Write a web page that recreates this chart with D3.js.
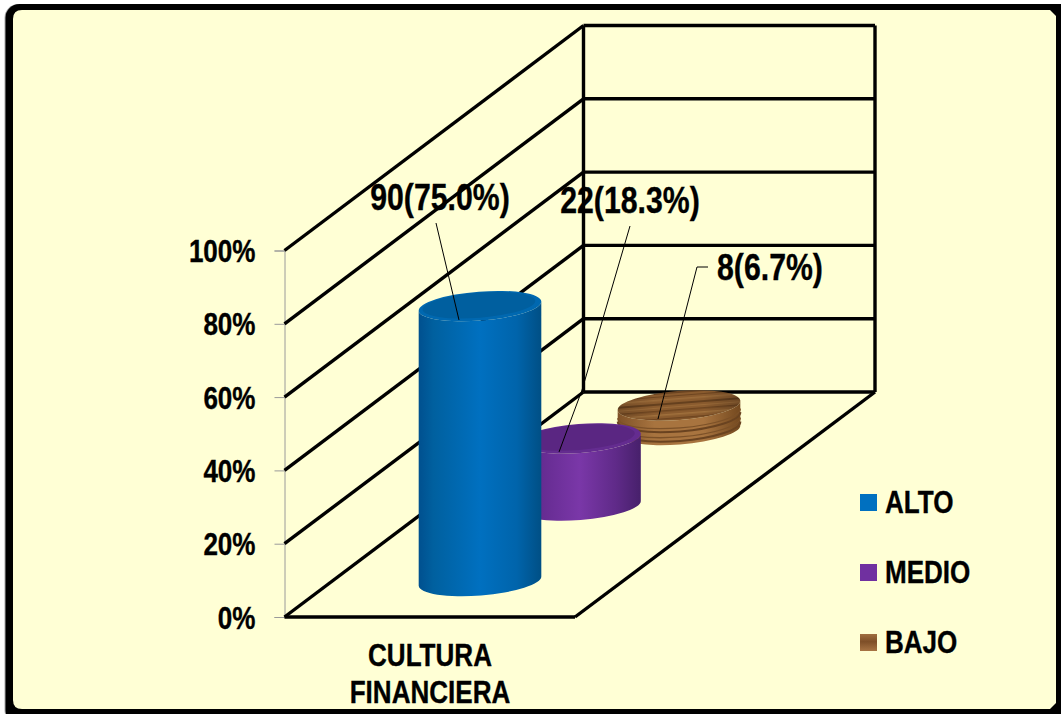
<!DOCTYPE html>
<html><head><meta charset="utf-8">
<script src="https://cdn.jsdelivr.net/npm/d3@7"></script>
<style>html,body{margin:0;padding:0;background:#fff}svg{display:block}text{font-family:"Liberation Sans",Arial,sans-serif;font-weight:bold;fill:#000;stroke:#000;stroke-width:.35px}</style>
</head><body><svg id="c" width="1061" height="714"></svg>
<script>
const series = ["ALTO","MEDIO","BAJO"];
const values = [75.0,18.3,6.7];
const counts = [90,22,8];
const pctLabels = ["75.0","18.3","6.7"];
const yTicks = [0,20,40,60,80,100];
const category = ["CULTURA","FINANCIERA"];

const svg = d3.select("#c");
const defs = svg.append("defs");
const y = d3.scaleLinear().domain([0,100]).range([617,250.5]);
const backShift = {x:299, y:-225};
const h = d3.scaleLinear().domain([0,100]).range([0,366.5]);
const bx = d3.scalePoint().domain(series).range([480,679]);
const by = d3.scalePoint().domain(series).range([581,430]);
const rx=61.5, ry=14.5, tilt=-4.5;
const condense = 0.84;
function squeeze(sel){ sel.attr("lengthAdjust","spacingAndGlyphs").each(function(){
  this.setAttribute("textLength", this.getComputedTextLength()*condense); }); return sel; }

function hgrad(id,stops){
  const g=defs.append("linearGradient").attr("id",id);
  stops.forEach(([o,c])=>g.append("stop").attr("offset",o).attr("stop-color",c));
}
hgrad("gALTO",[[0,"#00508f"],[.12,"#00609f"],[.5,"#0070c0"],[.8,"#0064ab"],[1,"#004f85"]]);
hgrad("gMEDIO",[[0,"#54247c"],[.2,"#662c92"],[.5,"#7a37a8"],[.8,"#5f2a88"],[1,"#47206b"]]);
hgrad("gBAJO",[[0,"#7f5228"],[.3,"#a8743f"],[.7,"#a8743f"],[1,"#74491f"]]);
const woodTop = defs.append("pattern").attr("id","pTop").attr("patternUnits","userSpaceOnUse").attr("width",200).attr("height",32);
woodTop.append("rect").attr("width",200).attr("height",32).attr("fill","#8a5b2e");
[[1,1.5,"#6e4520"],[4,1,"#9a6a38"],[7,2,"#6a4320"],[11,1,"#6e4520"],[14,1.5,"#9c6c3a"],[18,2,"#65401e"],[22,1,"#9a6a38"],[25,1.5,"#6e4520"],[29,1.5,"#a0703c"]]
  .forEach(([yy,hh,c])=>woodTop.append("rect").attr("y",yy).attr("width",200).attr("height",hh).attr("fill",c));
const shade = defs.append("linearGradient").attr("id","gShade");
[[0,.15],[.3,0],[.7,0],[1,.2]].forEach(([o,a])=>shade.append("stop").attr("offset",o).attr("stop-color","#000").attr("stop-opacity",a));
const legendWood = defs.append("linearGradient").attr("id","gLeg").attr("x1",0).attr("x2",0).attr("y1",0).attr("y2",1);
[[0,"#a06e40"],[.45,"#7e4f28"],[1,"#a87444"]].forEach(([o,c])=>legendWood.append("stop").attr("offset",o).attr("stop-color",c));

// frame
svg.append("rect").attr("x",4.5).attr("y",4).attr("width",1070).attr("height",720).attr("rx",14).attr("fill","#a9a9a9");
svg.append("rect").attr("x",5.5).attr("y",4).attr("width",1070).attr("height",720).attr("rx",14).attr("fill","#000");
svg.append("path").attr("fill","#FFFFD5")
  .attr("d","M22,10H1050L1056,16V703L1050,709H22Q13,709 13,700V19Q13,10 22,10Z");

// axis (behind the walls)
const sx0=284.5, sxFront=575, bx0=sx0+backShift.x, bx1=875;
const axis = d3.axisLeft(y).tickValues(yTicks).tickFormat(d=>d+"%").tickSize(10).tickPadding(19);
const ax = svg.append("g").attr("transform",`translate(${sx0},0)`).call(axis);
ax.select(".domain").attr("stroke","#9a9a9a").attr("stroke-width",1);
ax.selectAll("line").attr("stroke","#9a9a9a").attr("stroke-width",1);
ax.selectAll("text").attr("font-size",31).attr("dy","0.36em").call(squeeze);

// walls
const g = svg.append("g").attr("fill","none").attr("stroke","#000").attr("stroke-width",3.4);
yTicks.forEach(t=>{
  g.append("line").attr("x1",sx0).attr("y1",y(t)).attr("x2",bx0).attr("y2",y(t)+backShift.y);
  g.append("line").attr("x1",bx0).attr("y1",y(t)+backShift.y).attr("x2",bx1).attr("y2",y(t)+backShift.y);
});
g.append("line").attr("x1",bx0).attr("y1",y(100)+backShift.y).attr("x2",bx0).attr("y2",y(0)+backShift.y);
g.append("line").attr("x1",bx1).attr("y1",y(100)+backShift.y).attr("x2",bx1).attr("y2",y(0)+backShift.y);
g.append("line").attr("x1",sx0).attr("y1",y(0)).attr("x2",sxFront).attr("y2",y(0));
g.append("line").attr("x1",sxFront).attr("y1",y(0)).attr("x2",bx1).attr("y2",y(0)+backShift.y);

// cylinders
function ellipsePt(cx,cy,a){
  const t=a*Math.PI/180, r=tilt*Math.PI/180;
  const ex=rx*Math.cos(t), ey=ry*Math.sin(t);
  return [cx+ex*Math.cos(r)-ey*Math.sin(r), cy+ex*Math.sin(r)+ey*Math.cos(r)];
}
function bodyPath(cx,cyTop,cyBot){
  const L=ellipsePt(cx,cyTop,180),R=ellipsePt(cx,cyTop,0),L2=ellipsePt(cx,cyBot,180),R2=ellipsePt(cx,cyBot,0);
  return `M${L}L${L2}A${rx},${ry} ${tilt} 0 0 ${R2}L${R}A${rx},${ry} ${tilt} 0 1 ${L}Z`;
}
const topFill={ALTO:"#005f9f",MEDIO:"#5a2682"};
const rimFill={ALTO:"#0068b0",MEDIO:"#642c90"};
const sideBands=[8,11.5,17,21];
series.map((s,i)=>({s,v:values[i]})).reverse().forEach(d=>{
  const cx=bx(d.s), yb=by(d.s), yt=yb-h(d.v);
  const c=svg.append("g");
  c.append("path").attr("d",bodyPath(cx,yt,yb)).attr("fill",`url(#g${d.s})`);
  if(d.s==="BAJO"){
    sideBands.forEach((o,i)=>{
      const L=ellipsePt(cx,yt+o,180),R=ellipsePt(cx,yt+o,0);
      c.append("path").attr("d",`M${L}A${rx},${ry} ${tilt} 0 0 ${R}`).attr("fill","none")
        .attr("stroke",i%2?"#6a4320":"#7c5128").attr("stroke-width",i%2?2:1.3);
    });
    c.append("ellipse").attr("cx",cx).attr("cy",yt).attr("rx",rx).attr("ry",ry)
      .attr("transform",`rotate(${tilt} ${cx} ${yt})`).attr("fill","url(#pTop)");
    c.append("ellipse").attr("cx",cx).attr("cy",yt).attr("rx",rx).attr("ry",ry)
      .attr("transform",`rotate(${tilt} ${cx} ${yt})`).attr("fill","url(#gShade)");
  } else {
    c.append("ellipse").attr("cx",cx).attr("cy",yt).attr("rx",rx).attr("ry",ry)
      .attr("transform",`rotate(${tilt} ${cx} ${yt})`).attr("fill",rimFill[d.s]);
    c.append("ellipse").attr("cx",cx-1).attr("cy",yt-1).attr("rx",rx-5).attr("ry",ry-2)
      .attr("transform",`rotate(${tilt} ${cx} ${yt})`).attr("fill",topFill[d.s]);
  }
});

// data labels + leaders
const lab = [[440,210,"M436,223L459,320"],[630,213,"M630,226L582,390L559,452"],[770,280,"M708,267H697L658,419"]];
series.forEach((s,i)=>{
  svg.append("path").attr("d",lab[i][2]).attr("fill","none").attr("stroke","#000").attr("stroke-width",1);
  svg.append("text").attr("x",lab[i][0]).attr("y",lab[i][1]).attr("text-anchor","middle")
    .attr("font-size",36).text(`${counts[i]}(${pctLabels[i]}%)`).call(squeeze);
});

// category
category.forEach((t,i)=>svg.append("text").attr("x",430).attr("y",666+i*37).attr("text-anchor","middle").attr("font-size",31).text(t).call(squeeze));

// legend
const ly=d3.scalePoint().domain(series).range([502.5,642.5]);
const swatch={ALTO:"#0070c0",MEDIO:"#7030a0",BAJO:"url(#gLeg)"};
series.forEach(s=>{
  svg.append("rect").attr("x",860).attr("y",ly(s)-8.5).attr("width",17).attr("height",17).attr("fill",swatch[s]);
  svg.append("text").attr("x",885).attr("y",ly(s)+10.5).attr("font-size",31).text(s).call(squeeze);
});
</script></body></html>
